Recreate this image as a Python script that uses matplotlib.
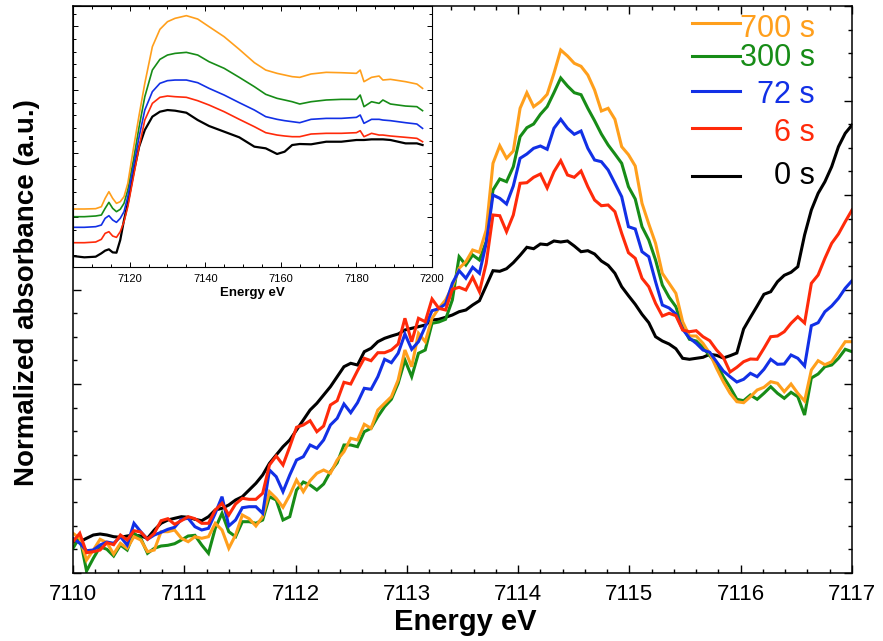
import numpy as np
import matplotlib
matplotlib.use("Agg")
import matplotlib.pyplot as plt
from matplotlib.ticker import MultipleLocator

plt.rcParams['font.family'] = ['Liberation Sans', 'DejaVu Sans']

# ---------------- main panel data (pre-edge region) ----------------
energy = np.linspace(7110, 7117, 116)

abs_0s = [0.313, 0.313, 0.347, 0.38, 0.39, 0.38, 0.363, 0.357, 0.37, 0.38,
          0.37, 0.347, 0.43, 0.497, 0.53, 0.547, 0.563, 0.557, 0.537, 0.523,
          0.563, 0.63, 0.647, 0.68, 0.73, 0.763, 0.83, 0.897, 0.98, 1.097,
          1.18, 1.263, 1.33, 1.43, 1.53, 1.63, 1.697, 1.78, 1.863, 1.963,
          2.063, 2.097, 2.08, 2.213, 2.247, 2.313, 2.347, 2.37, 2.39, 2.43,
          2.447, 2.463, 2.48, 2.53, 2.537, 2.557, 2.58, 2.613, 2.63, 2.68,
          2.723, 2.873, 3.023, 3.017, 3.043, 3.103, 3.177, 3.257, 3.243, 3.29,
          3.283, 3.32, 3.31, 3.32, 3.27, 3.213, 3.223, 3.19, 3.12, 3.077,
          2.997, 2.863, 2.773, 2.687, 2.587, 2.503, 2.363, 2.32, 2.29, 2.243,
          2.147, 2.137, 2.147, 2.157, 2.187, 2.177, 2.15, 2.173, 2.2, 2.44,
          2.557, 2.67, 2.787, 2.813, 2.913, 2.977, 3.007, 3.063, 3.38, 3.63,
          3.797, 3.913, 4.063, 4.263, 4.397, 4.48]

abs_6s = [0.313, 0.397, 0.203, 0.213, 0.23, 0.303, 0.283, 0.38, 0.33, 0.423,
          0.41, 0.337, 0.397, 0.523, 0.543, 0.487, 0.523, 0.563, 0.543, 0.497,
          0.497, 0.63, 0.697, 0.58, 0.69, 0.747, 0.737, 0.737, 0.797, 1.08,
          1.17, 1.08, 1.263, 1.457, 1.48, 1.523, 1.413, 1.47, 1.68, 1.723,
          1.907, 1.89, 2.023, 2.147, 2.123, 2.203, 2.203, 2.23, 2.29, 2.547,
          2.313, 2.547, 2.513, 2.74, 2.647, 2.63, 2.837, 2.857, 2.83, 2.957,
          2.813, 3.097, 3.58, 3.573, 3.413, 3.58, 3.897, 3.903, 3.957, 3.99,
          3.85, 4.013, 4.123, 3.98, 3.957, 4.02, 3.863, 3.73, 3.673, 3.68,
          3.613, 3.397, 3.203, 3.147, 2.947, 2.863, 2.697, 2.57, 2.597, 2.573,
          2.43, 2.413, 2.423, 2.363, 2.323, 2.23, 2.157, 2.01, 2.057, 2.113,
          2.14, 2.137, 2.247, 2.363, 2.37, 2.413, 2.497, 2.563, 2.50, 2.897,
          2.98, 3.147, 3.297, 3.39, 3.513, 3.63]

abs_72s = [0.347, 0.297, 0.223, 0.23, 0.28, 0.31, 0.297, 0.363, 0.28, 0.497,
           0.413, 0.337, 0.38, 0.407, 0.437, 0.457, 0.537, 0.547, 0.463, 0.43,
           0.447, 0.597, 0.763, 0.47, 0.53, 0.653, 0.663, 0.663, 0.597, 1.03,
           0.963, 0.813, 0.98, 1.13, 1.163, 1.28, 1.247, 1.33, 1.48, 1.547,
           1.69, 1.603, 1.703, 1.847, 1.837, 1.963, 2.137, 2.103, 2.197, 2.39,
           2.237, 2.313, 2.463, 2.623, 2.643, 2.69, 2.897, 3.023, 2.947, 3.057,
           2.997, 3.297, 3.78, 3.747, 3.69, 3.87, 4.147, 4.19, 4.247, 4.27,
           4.237, 4.447, 4.537, 4.447, 4.387, 4.42, 4.247, 4.13, 4.113, 4.03,
           3.897, 3.763, 3.463, 3.44, 3.213, 3.163, 2.913, 2.68, 2.65, 2.59,
           2.437, 2.35, 2.297, 2.23, 2.207, 2.113, 2.02, 1.963, 1.91, 1.937,
           1.997, 1.963, 2.037, 2.137, 2.087, 2.09, 2.18, 2.147, 2.07, 2.473,
           2.503, 2.613, 2.67, 2.747, 2.847, 2.923]

abs_300s = [0.247, 0.363, 0.02, 0.147, 0.263, 0.237, 0.17, 0.28, 0.23, 0.397,
            0.347, 0.197, 0.247, 0.27, 0.277, 0.293, 0.33, 0.37, 0.377, 0.28,
            0.197, 0.447, 0.597, 0.413, 0.363, 0.513, 0.513, 0.497, 0.53, 0.763,
            0.73, 0.53, 0.563, 0.83, 0.91, 0.88, 0.83, 0.89, 1.013, 1.103,
            1.28, 1.28, 1.263, 1.413, 1.447, 1.563, 1.663, 1.737, 1.897, 2.13,
            1.963, 2.197, 2.23, 2.497, 2.51, 2.537, 2.73, 3.163, 3.08, 3.18,
            3.13, 3.313, 3.83, 3.94, 3.913, 4.063, 4.363, 4.453, 4.49, 4.587,
            4.663, 4.803, 4.95, 4.87, 4.803, 4.783, 4.647, 4.523, 4.39, 4.28,
            4.19, 4.097, 3.863, 3.74, 3.463, 3.33, 3.13, 2.88, 2.757, 2.663,
            2.463, 2.337, 2.32, 2.253, 2.173, 2.097, 1.963, 1.857, 1.737, 1.723,
            1.78, 1.737, 1.797, 1.863, 1.797, 1.747, 1.807, 1.763, 1.58, 1.95,
            1.99, 2.063, 2.08, 2.147, 2.237, 2.213]

abs_700s = [0.397, 0.347, 0.13, 0.23, 0.337, 0.303, 0.19, 0.297, 0.247, 0.363,
            0.33, 0.213, 0.23, 0.413, 0.413, 0.43, 0.347, 0.313, 0.363, 0.347,
            0.363, 0.497, 0.43, 0.247, 0.38, 0.58, 0.543, 0.47, 0.563, 0.813,
            0.747, 0.657, 0.78, 0.93, 0.813, 0.923, 0.997, 1.03, 0.997, 1.13,
            1.213, 1.347, 1.33, 1.487, 1.447, 1.63, 1.697, 1.763, 1.93, 2.23,
            2.063, 2.397, 2.313, 2.547, 2.647, 2.73, 2.863, 3.047, 3.113, 3.23,
            3.207, 3.43, 4.097, 4.273, 4.147, 4.22, 4.647, 4.803, 4.663, 4.713,
            4.787, 4.997, 5.23, 5.17, 5.097, 5.067, 4.98, 4.83, 4.62, 4.647,
            4.537, 4.263, 4.183, 4.07, 3.697, 3.49, 3.297, 2.997, 2.897, 2.797,
            2.513, 2.37, 2.37, 2.297, 2.197, 2.047, 1.913, 1.797, 1.713, 1.703,
            1.763, 1.83, 1.857, 1.913, 1.897, 1.813, 1.89, 1.797, 1.72, 2.03,
            2.123, 2.083, 2.113, 2.213, 2.313, 2.313]

# ---------------- inset data (full XANES) ----------------
inset_energy = [7105, 7108, 7111, 7112.5, 7113.5, 7114.5, 7115.5, 7116.5, 7117.5,
                7118.5, 7119.5, 7121, 7122.5, 7124, 7126, 7128, 7130, 7132, 7135,
                7138, 7141, 7145, 7149, 7153, 7156, 7159, 7161, 7163, 7165, 7168,
                7172, 7176, 7180, 7181, 7182, 7184, 7186, 7187, 7189, 7193, 7196,
                7197.5]

inset_0s = [0.387, 0.366, 0.376, 0.429, 0.471, 0.492, 0.444, 0.439, 0.638,
            0.953, 1.215, 1.687, 2.106, 2.368, 2.578, 2.656, 2.682, 2.672, 2.64,
            2.525, 2.431, 2.342, 2.253, 2.106, 2.08, 1.991, 2.027, 2.132, 2.148,
            2.143, 2.184, 2.184, 2.211, 2.211, 2.211, 2.221, 2.221, 2.221, 2.211,
            2.158, 2.158, 2.132]
inset_6s = [0.596, 0.596, 0.607, 0.649, 0.743, 0.769, 0.701, 0.68, 0.769,
            0.927, 1.162, 1.634, 2.106, 2.525, 2.787, 2.882, 2.903, 2.892, 2.882,
            2.829, 2.761, 2.656, 2.536, 2.42, 2.326, 2.289, 2.274, 2.263, 2.263,
            2.305, 2.316, 2.316, 2.326, 2.357, 2.263, 2.316, 2.289, 2.289, 2.274,
            2.253, 2.237, 2.184]
inset_72s = [0.838, 0.838, 0.848, 0.874, 0.979, 1.021, 0.953, 0.916, 0.979,
             1.084, 1.32, 1.791, 2.263, 2.682, 2.971, 3.102, 3.144, 3.154, 3.154,
             3.112, 3.023, 2.918, 2.798, 2.682, 2.578, 2.536, 2.515, 2.499, 2.483,
             2.536, 2.551, 2.551, 2.567, 2.604, 2.473, 2.536, 2.536, 2.525, 2.515,
             2.483, 2.462, 2.394]
inset_300s = [1.005, 1.005, 1.016, 1.031, 1.136, 1.231, 1.136, 1.084, 1.121,
              1.215, 1.425, 1.896, 2.42, 2.892, 3.311, 3.479, 3.547, 3.573, 3.589,
              3.547, 3.442, 3.338, 3.196, 3.049, 2.929, 2.866, 2.84, 2.813, 2.777,
              2.813, 2.84, 2.85, 2.85, 2.918, 2.735, 2.813, 2.787, 2.84, 2.777,
              2.745, 2.735, 2.672]
inset_700s = [1.126, 1.126, 1.131, 1.162, 1.293, 1.398, 1.293, 1.215, 1.241,
              1.32, 1.529, 2.08, 2.604, 3.102, 3.678, 3.951, 4.071, 4.124, 4.166,
              4.113, 3.993, 3.835, 3.636, 3.427, 3.311, 3.259, 3.233, 3.207, 3.196,
              3.249, 3.275, 3.269, 3.259, 3.311, 3.128, 3.196, 3.217, 3.154, 3.165,
              3.128, 3.091, 3.023]

labels = ['700 s', '300 s', '72 s', '6 s', '0 s']
colors = ['#FF9F1C', '#178C17', '#1230E6', '#FF2A0A', '#000000']
main_series = [abs_700s, abs_300s, abs_72s, abs_6s, abs_0s]
inset_series = [inset_700s, inset_300s, inset_72s, inset_6s, inset_0s]

fig = plt.figure(figsize=(8.83, 6.41), dpi=100)
ax = fig.add_axes([73 / 883, 1 - 573 / 641, 779 / 883, 567 / 641])

draw_order = [4, 1, 0, 2, 3]
for k in draw_order:
    ax.plot(energy, main_series[k], color=colors[k], lw=2.2, solid_joinstyle='miter')

ax.set_xlim(7110, 7117)
ax.set_ylim(0, 5.67)
ax.xaxis.set_major_locator(MultipleLocator(1))
ax.xaxis.set_minor_locator(MultipleLocator(0.2))
ax.yaxis.set_major_locator(MultipleLocator(0.945))
ax.yaxis.set_minor_locator(MultipleLocator(0.23625))
ax.xaxis.set_major_formatter(plt.FuncFormatter(lambda v, p: f"{v:.0f}"))
ax.tick_params(which='both', direction='in', top=True, right=True, width=1.0,
               labelleft=False, labelsize=16, pad=8)
ax.tick_params(which='major', length=5.5)
ax.tick_params(which='minor', length=3)
for s in ax.spines.values():
    s.set_linewidth(1.1)

ax.set_xlabel('Energy eV', fontsize=21, fontweight='bold')
ax.set_ylabel('Normalized absorbance (a.u.)', fontsize=20, fontweight='bold')
ax.xaxis.set_label_coords(0.503, -0.062)
ax.yaxis.set_label_coords(-0.043, 0.495)

# legend drawn as colored lines with right-aligned colored text
leg_line_y = [0.9705, 0.9118, 0.8501, 0.7848, 0.7002]
leg_text_y = [0.9453, 0.8942, 0.8289, 0.7619, 0.6861]
for k in range(5):
    ax.plot([0.7946, 0.8562], [leg_line_y[k]] * 2, color=colors[k], lw=2.2,
            transform=ax.transAxes, clip_on=False)
    ax.text(0.9525, leg_text_y[k], labels[k], color=colors[k], fontsize=22,
            ha='right', va='baseline', transform=ax.transAxes)

# inset
axin = fig.add_axes([73 / 883, 1 - 267 / 641, 359 / 883, 261 / 641])
axin.set_facecolor('white')
for k in draw_order:
    axin.plot(inset_energy, inset_series[k], color=colors[k],
              lw=1.6 if k == 4 else 1.2)
axin.set_xlim(7105, 7200)
axin.set_ylim(0.214, 4.318)
axin.xaxis.set_major_locator(MultipleLocator(20))
axin.xaxis.set_minor_locator(MultipleLocator(5))
axin.yaxis.set_major_locator(MultipleLocator(1))
axin.yaxis.set_minor_locator(MultipleLocator(0.2))
axin.tick_params(which='both', direction='in', top=True, right=True, width=0.7,
                 labelleft=False, labelsize=8, pad=5)
axin.tick_params(which='major', length=3.5)
axin.tick_params(which='minor', length=2)
for s in axin.spines.values():
    s.set_linewidth(0.8)
axin.set_xlabel('Energy eV', fontsize=9.5, fontweight='bold', labelpad=2.5)

fig.savefig('out.png', dpi=100)
